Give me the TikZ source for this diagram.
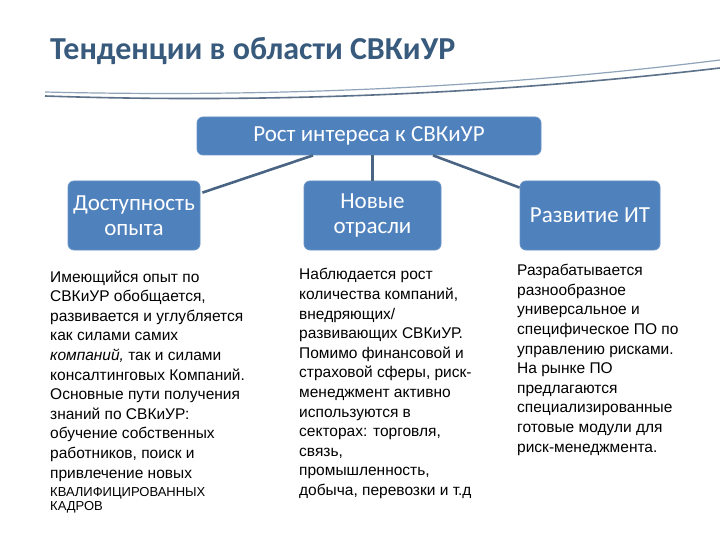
\documentclass[tikz,border=0pt]{standalone}
\usepackage{fontspec}
\setmainfont{Liberation Sans}
\newfontfamily\carl{Carlito}
\usetikzlibrary{calc}
\definecolor{titleblue}{HTML}{385A7C}
\definecolor{boxblue}{HTML}{4F81BD}
\definecolor{linkcol}{HTML}{4A6483}
\definecolor{swoosh}{HTML}{8FA3BA}
\definecolor{swooshdark}{HTML}{5C718A}
\tikzset{
  topicbox/.style={fill=boxblue, draw=boxblue!85!white, line width=0.8pt, rounded corners=6pt,
    text=white, font=\carl\fontsize{23}{25}\selectfont, align=center, inner sep=0pt},
  linkline/.style={draw=linkcol, line width=2.6pt},
  bodytext/.style={anchor=base west, inner sep=0pt, align=left,
    font=\fontsize{15.5}{19.6}\selectfont, text=black}
}
\begin{document}
\begin{tikzpicture}[x=1pt,y=-1pt]
\useasboundingbox (0,0) rectangle (720,540);
\fill[white] (0,0) rectangle (720,540);
% title
\node[anchor=base west, inner sep=0pt, text=titleblue, font=\carl\bfseries\fontsize{32}{36}\selectfont] (title) at (50,60) {Тенденции в области СВКиУР};
% swoosh
\draw[swooshdark, line width=1.6pt] (45,96) .. controls (250,103) and (480,96) .. (720,68);
\draw[swoosh, line width=1.2pt] (45,92) .. controls (250,97) and (480,90) .. (720,60);
% boxes
\node[topicbox, minimum width=344pt, minimum height=38pt] (top) at (369,136) {Рост интереса к СВКиУР};
\node[topicbox, minimum width=132pt, minimum height=69pt] (left) at (134,215.5) {Доступность\\опыта};
\node[topicbox, minimum width=137pt, minimum height=69pt] (mid) at (372.5,215.5) {Новые\\отрасли};
\node[topicbox, minimum width=140pt, minimum height=69pt] (right) at (590,215.5) {Развитие ИТ};
% connectors
\draw[linkline] ($(top.south)+(-56,0)$) -- ($(left.north east)+(2,12)$);
\draw[linkline] (mid.north |- top.south) -- (mid.north);
\draw[linkline] ($(top.south)+(64,0)$) -- ($(right.north west)+(0,7)$);
% texts (base anchor = last line's baseline)
\node[bodytext] (ltext) at (50,478) {Имеющийся опыт по\\СВКиУР обобщается,\\развивается и углубляется\\как силами самих\\\textit{компаний,} так и силами\\консалтинговых Компаний.\\Основные пути получения\\знаний по СВКиУР:\\обучение собственных\\работников, поиск и\\привлечение новых};
\node[anchor=base west, inner sep=0pt, align=left, font=\fontsize{13}{14}\selectfont] (ltext2) at (50,510) {КВАЛИФИЦИРОВАННЫХ\\КАДРОВ};
\node[bodytext] (mtext) at (299,495.5) {Наблюдается рост\\количества компаний,\\внедряющих/\\развивающих СВКиУР.\\Помимо финансовой и\\страховой сферы, риск-\\менеджмент активно\\используются в\\секторах: торговля,\\связь,\\промышленность,\\добыча, перевозки и т.д};
\node[bodytext] (rtext) at (517,452) {Разрабатывается\\разнообразное\\универсальное и\\специфическое ПО по\\управлению рисками.\\На рынке ПО\\предлагаются\\специализированные\\готовые модули для\\риск-менеджмента.};
\end{tikzpicture}
\end{document}
